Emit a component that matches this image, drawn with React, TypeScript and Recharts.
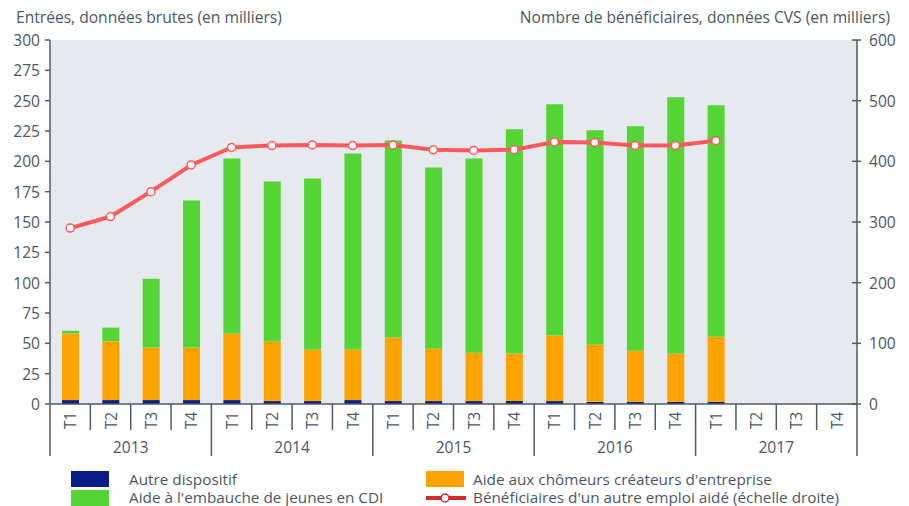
import React from 'react';
import { ComposedChart, Bar, Line, XAxis, YAxis, CartesianGrid, Legend, Customized } from 'recharts';

const years = ['2013', '2014', '2015', '2016', '2017'];
const quarterLabels = ['T1', 'T2', 'T3', 'T4'];
const autreDispositif = [3.2, 3.2, 3.2, 3.2, 3.2, 2.4, 2.4, 3.2, 2.4, 2.4, 2.4, 2.4, 2.4, 1.8, 1.8, 1.8, 1.8];
const aideChomeurs = [55.0, 48.4, 43.4, 43.4, 55.0, 49.2, 42.6, 41.8, 52.5, 43.1, 39.8, 39.3, 54.1, 47.0, 42.1, 39.9, 53.6];
const aideJeunes = [2.2, 11.3, 56.7, 121.1, 144.1, 131.7, 140.8, 161.4, 162.3, 149.4, 160.1, 184.7, 190.5, 176.8, 185.1, 211.2, 190.9];
const beneficiaires = [290, 309, 350, 394, 423, 426, 427, 426, 427, 419, 418, 419, 432, 431, 426, 426, 434];
const leftTicks = [0, 25, 50, 75, 100, 125, 150, 175, 200, 225, 250, 275, 300];
const rightTicks = [0, 100, 200, 300, 400, 500, 600];

const data = years.flatMap((year, yi) =>
  quarterLabels.map((q, qi) => {
    const i = yi * 4 + qi;
    return {
      key: `${year}-${q}`,
      q,
      year,
      autre: i < autreDispositif.length ? autreDispositif[i] : null,
      chomeurs: i < aideChomeurs.length ? aideChomeurs[i] : null,
      jeunes: i < aideJeunes.length ? aideJeunes[i] : null,
      benef: i < beneficiaires.length ? beneficiaires[i] : null,
    };
  })
);

const W = 909;
const H = 506;
const PLOT_LEFT = 50;
const PLOT_RIGHT = 857;
const BW = (PLOT_RIGHT - PLOT_LEFT) / data.length;
const FONT = '"Open Sans", "Noto Sans", sans-serif';
const TXT = '#4b5764';
const AXIS = '#4f5a66';
const FS = 15.6;

const C_NAVY = '#0a1d86';
const C_ORANGE = '#ffa300';
const C_GREEN = '#54d435';
const C_RED = '#ff5b5e';

const QuarterTick = (props: any) => {
  const { x, y, payload, index } = props;
  const row = data[index];
  const isYearStart = index % 4 === 0;
  const ty = y + 16.5;
  return (
    <g>
      <line x1={x - BW / 2} x2={x - BW / 2} y1={y} y2={y + (isYearStart ? 52 : 26)} stroke={AXIS} strokeWidth={1.5} />
      {index === data.length - 1 && (
        <line x1={x + BW / 2} x2={x + BW / 2} y1={y} y2={y + 52} stroke={AXIS} strokeWidth={1.5} />
      )}
      <text x={x} y={ty} transform={`rotate(-90 ${x} ${ty})`} textAnchor="middle" dominantBaseline="central" fill={TXT} fontSize={FS} fontFamily={FONT}>
        {payload.value}
      </text>
      {index % 4 === 1 && (
        <text x={x + BW / 2} y={y + 43} textAnchor="middle" dominantBaseline="central" fill={TXT} fontSize={FS} fontFamily={FONT}>
          {row ? row.year : ''}
        </text>
      )}
    </g>
  );
};

const LeftTick = (props: any) => {
  const { y, payload } = props;
  return (
    <g>
      <line x1={PLOT_LEFT - 5} x2={PLOT_LEFT} y1={y} y2={y} stroke={AXIS} strokeWidth={1.5} />
      <text x={PLOT_LEFT - 10} y={y} textAnchor="end" dominantBaseline="central" fill={TXT} fontSize={FS} fontFamily={FONT}>
        {payload.value}
      </text>
    </g>
  );
};

const RightTick = (props: any) => {
  const { y, payload } = props;
  return (
    <g>
      <line x1={PLOT_RIGHT - 5} x2={PLOT_RIGHT + 4} y1={y} y2={y} stroke={AXIS} strokeWidth={1.5} />
      <text x={PLOT_RIGHT + 12} y={y} textAnchor="start" dominantBaseline="central" fill={TXT} fontSize={FS} fontFamily={FONT}>
        {payload.value}
      </text>
    </g>
  );
};

const Titles = () => (
  <g fontFamily={FONT} fontSize={FS} fill={TXT}>
    <text x={16} y={17} dominantBaseline="central">Entrées, données brutes (en milliers)</text>
    <text x={890} y={17} textAnchor="end" dominantBaseline="central">Nombre de bénéficiaires, données CVS (en milliers)</text>
  </g>
);

const legendText: React.CSSProperties = {
  position: 'absolute',
  fontFamily: FONT,
  fontSize: 15.3,
  color: TXT,
  lineHeight: '16px',
  whiteSpace: 'nowrap',
};

const LegendContent = () => (
  <div style={{ position: 'relative', width: W, height: 38 }}>
    <div style={{ position: 'absolute', left: 71, top: 3, width: 38, height: 16, background: C_NAVY }} />
    <div style={{ ...legendText, left: 129, top: 2.5 }}>Autre dispositif</div>
    <div style={{ position: 'absolute', left: 71, top: 22, width: 38, height: 16, background: C_GREEN }} />
    <div style={{ ...legendText, left: 129, top: 20.5 }}>Aide à l'embauche de jeunes en CDI</div>
    <div style={{ position: 'absolute', left: 426, top: 3, width: 38, height: 16, background: C_ORANGE }} />
    <div style={{ ...legendText, left: 473, top: 2.5 }}>Aide aux chômeurs créateurs d'entreprise</div>
    <svg style={{ position: 'absolute', left: 424, top: 22 }} width={44} height={16}>
      <line x1={2} x2={42} y1={8} y2={8} stroke="#d42a2e" strokeWidth={4} />
      <circle cx={21} cy={8} r={4} fill="#fff" stroke="#d42a2e" strokeWidth={1.5} />
    </svg>
    <div style={{ ...legendText, left: 473, top: 20.5 }}>Bénéficiaires d'un autre emploi aidé (échelle droite)</div>
  </div>
);

export default function App() {
  return (
    <div style={{ position: 'absolute', left: 0, top: 0, width: W, height: H, background: '#fff' }}>
      <ComposedChart
        width={W}
        height={H}
        data={data}
        margin={{ top: 40, right: 0, bottom: 0, left: 0 }}
        barSize={17}
        style={{ fontFamily: FONT }}
      >
        <CartesianGrid horizontal={false} vertical={false} fill="#e6e9ee" stroke="none" />
        <XAxis
          dataKey="q"
          interval={0}
          height={64}
          tickLine={false}
          tickSize={0}
          tickMargin={0}
          tick={<QuarterTick />}
          axisLine={{ stroke: AXIS, strokeWidth: 1.5 }}
        />
        <YAxis
          yAxisId="left"
          orientation="left"
          width={50}
          domain={[0, 300]}
          ticks={leftTicks}
          interval={0}
          tickLine={false}
          tick={<LeftTick />}
          axisLine={{ stroke: AXIS, strokeWidth: 1.5 }}
        />
        <YAxis
          yAxisId="right"
          orientation="right"
          width={52}
          domain={[0, 600]}
          ticks={rightTicks}
          interval={0}
          tickLine={false}
          tick={<RightTick />}
          axisLine={{ stroke: AXIS, strokeWidth: 1.5 }}
        />
        <Bar yAxisId="left" dataKey="autre" stackId="s" fill={C_NAVY} isAnimationActive={false} name="Autre dispositif" />
        <Bar yAxisId="left" dataKey="chomeurs" stackId="s" fill={C_ORANGE} isAnimationActive={false} name="Aide aux chômeurs créateurs d'entreprise" />
        <Bar yAxisId="left" dataKey="jeunes" stackId="s" fill={C_GREEN} isAnimationActive={false} name="Aide à l'embauche de jeunes en CDI" />
        <Line
          yAxisId="right"
          dataKey="benef"
          stroke={C_RED}
          strokeWidth={4}
          dot={{ r: 4, fill: '#fff', stroke: C_RED, strokeWidth: 1.5 }}
          isAnimationActive={false}
          name="Bénéficiaires d'un autre emploi aidé (échelle droite)"
        />
        <Legend verticalAlign="bottom" height={38} wrapperStyle={{ left: 0, width: W, height: 38 }} content={<LegendContent />} />
        <Customized component={<Titles />} />
      </ComposedChart>
    </div>
  );
}
